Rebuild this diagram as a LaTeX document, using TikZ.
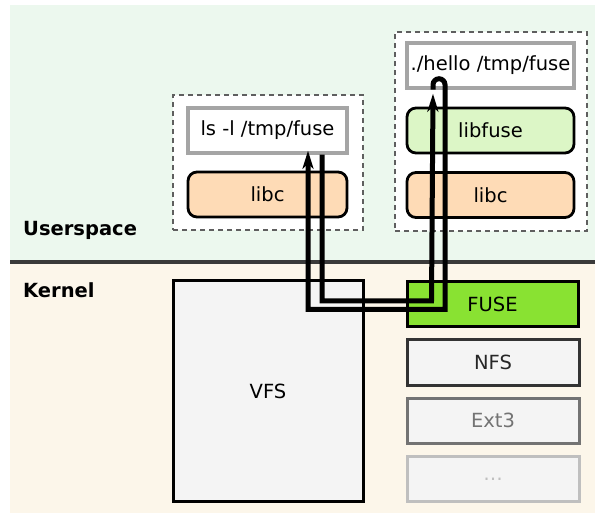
\documentclass[tikz,border=0pt]{standalone}
\usepackage{fontspec}
\setmainfont{DejaVu Sans}
\usetikzlibrary{arrows.meta}
\definecolor{userbg}{RGB}{236,248,238}
\definecolor{kernbg}{RGB}{252,246,234}
\definecolor{sepclr}{RGB}{58,58,58}
\definecolor{libcclr}{RGB}{254,219,182}
\definecolor{libfuseclr}{RGB}{220,246,198}
\definecolor{fuseclr}{RGB}{137,226,50}
\definecolor{boxfill}{RGB}{244,244,244}
\definecolor{progline}{RGB}{165,165,165}
\definecolor{grpline}{RGB}{95,95,95}
\newcommand{\mainfnt}{\fontsize{19.5}{23}\selectfont}
\tikzset{
  group/.style={rectangle,draw=grpline,line width=2.5pt,dash pattern=on 5pt off 4pt,
                fill=white,inner sep=0pt},
  prog/.style={rectangle,draw=progline,line width=3.5pt,fill=white,
               minimum height=45pt,inner sep=0pt,font=\mainfnt},
  lib/.style={rectangle,draw=black,line width=2.8pt,rounded corners=9pt,
              minimum height=45pt,inner sep=0pt,font=\mainfnt},
  fsbox/.style={rectangle,draw=black,line width=3pt,fill=boxfill,
                minimum width=172pt,minimum height=45pt,inner sep=0pt,font=\mainfnt},
  region/.style={anchor=base west,inner sep=0pt,font=\mainfnt\bfseries},
  flow/.style={line width=5pt,-{Stealth[length=18pt,width=11pt,inset=5pt]}},
}
\begin{document}
\begin{tikzpicture}[x=1pt,y=-1pt]
\useasboundingbox (0,0) rectangle (595,513);

% userspace / kernel areas
\fill[userbg] (10,5) rectangle (595,262);
\fill[kernbg] (10,262) rectangle (595,513);
\draw[sepclr,line width=3.5pt] (10,262) -- (595,262);
\node[region] (user) at (23,236) {Userspace};
\node[region] (kern) at (23,298) {Kernel};

% ls process
\node[group,minimum width=190pt,minimum height=135pt] (lsgrp) at (268,162.5) {};
\node[prog,minimum width=159pt] (ls) at (267.5,130.5) {ls -l /tmp/fuse};
\node[lib,fill=libcclr,minimum width=159pt] (libcA) at (267.5,194.5) {libc};

% hello process
\node[group,minimum width=192pt,minimum height=199pt] (hellogrp) at (491,131.5) {};
\node[prog,minimum width=167pt] (hello) at (490.5,65.5) {./hello /tmp/fuse};
\node[lib,fill=libfuseclr,minimum width=167pt] (libfuse) at (490.5,130.5) {libfuse};
\node[lib,fill=libcclr,minimum width=167pt] (libcB) at (490.5,195) {libc};

% kernel parts
\node[fsbox,minimum width=190pt,minimum height=220pt] (vfs) at (268,391) {VFS};
\node[fsbox,fill=fuseclr,minimum width=171pt] (fuse) at (492.5,304.5) {FUSE};
\node[fsbox,draw=black!80,text=black!85] (nfs) at (493,362.5) {NFS};
\node[fsbox,draw=black!55,text=black!55] (ext) at (493,420.5) {Ext3};
\node[fsbox,draw=black!25,text=black!25] (more) at (493,479) {\dots};

% request and reply
\draw[flow] ([xshift=54.5pt]ls.south) |- ([xshift=26pt,yshift=3.5pt]fuse.west)
  -- ([xshift=-57.5pt,yshift=-4pt]hello.south);
\draw[flow] ([xshift=-57.5pt]hello.south) -- ++(0,5pt)
  arc[start angle=180,end angle=0,radius=6pt]
  |- ([xshift=40pt,yshift=-30pt]vfs.north) -- ([xshift=40.5pt,yshift=4pt]ls.south);
\end{tikzpicture}
\end{document}
